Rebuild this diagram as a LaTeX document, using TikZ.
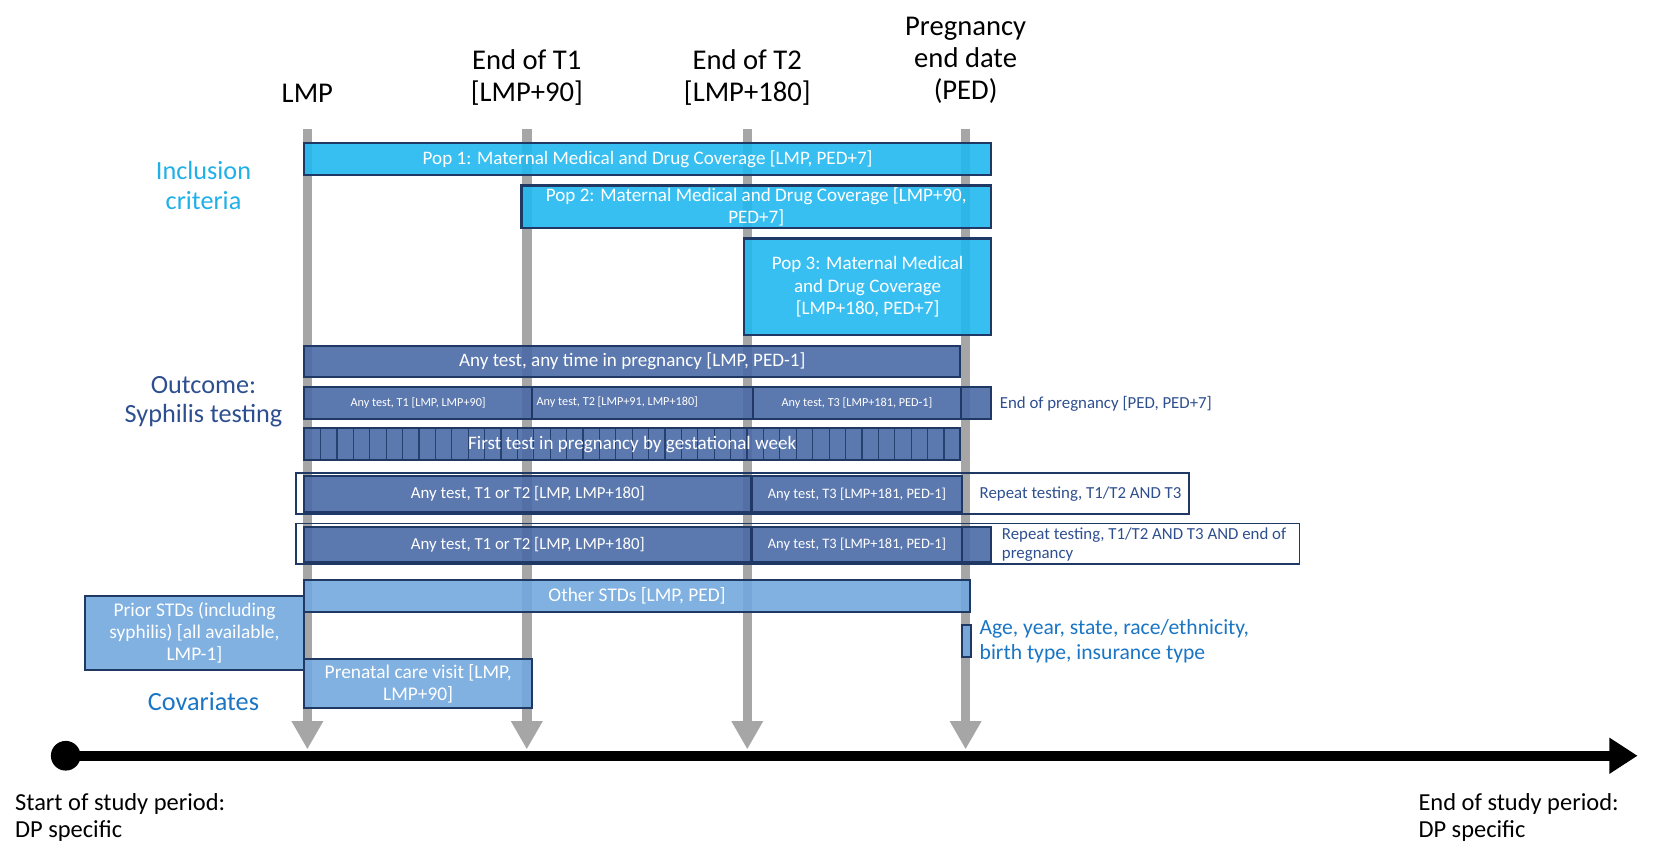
\documentclass[tikz,border=0pt]{standalone}
\usepackage{fontspec}
\setmainfont{Carlito}
\usetikzlibrary{arrows.meta}
\definecolor{navy}{HTML}{1F3864}
\definecolor{inclfill}{HTML}{22B8EF}
\definecolor{outfill}{HTML}{4A6AA6}
\definecolor{covfill}{HTML}{72A8DE}
\definecolor{incltext}{HTML}{1FB0E8}
\definecolor{outtext}{HTML}{2E4F8F}
\definecolor{covtext}{HTML}{1A75C4}
\definecolor{vgray}{HTML}{A6A6A6}
\newcommand\fs[2]{\fontsize{#1}{#2}\selectfont}
% \bx{name}{x1}{y1}{x2}{y2}{box style}{text style}{text}
\newcommand\bx[8]{\draw[#6] (#2,#3) rectangle (#4,#5);
  \node[#7] (#1) at ({(#2+#4)/2},{(#3+#5)/2}) {#8};}
\begin{document}
\begin{tikzpicture}[x=0.025cm,y=-0.025cm,
  inclbox/.style={draw=navy,line width=1.4pt,fill=inclfill,fill opacity=0.9},
  outbox/.style={draw=navy,line width=1.4pt,fill=outfill,fill opacity=0.9},
  covbox/.style={draw=navy,line width=1.4pt,fill=covfill,fill opacity=0.9},
  repframe/.style={draw=navy,line width=1.1pt},
  wtext/.style={text=white,inner sep=0pt,align=center,font=\fs{12.8}{14.8}},
  stext/.style={text=white,inner sep=0pt,align=center,font=\fs{8.2}{9.5}},
  mtext/.style={text=white,inner sep=0pt,align=center,font=\fs{11.3}{13}},
  ttext/.style={text=white,inner sep=0pt,align=center,font=\fs{9.7}{11}},
  hdr/.style={inner sep=0pt,align=center,font=\fs{19.2}{21.5}},
  sidelab/.style={inner sep=0pt,align=left,anchor=west,font=\fs{11.3}{13}},
  leftlab/.style={inner sep=0pt,align=center,font=\fs{17.6}{20}},
  vline/.style={draw=vgray,line width=6.4pt,-{Triangle[width=20pt,length=19pt]}},
  btext/.style={inner sep=0pt,align=left,anchor=north west,font=\fs{16.4}{18.5}},
]
\useasboundingbox (0,0) rectangle (1568,804);

% header labels
\node[hdr] (hLMP) at (290,88) {LMP};
\node[hdr] (hT1) at (497,73) {End of T1\\{[LMP+90]}};
\node[hdr] (hT2) at (705,73) {End of T2\\{[LMP+180]}};
\node[hdr] (hPED) at (911,57) {Pregnancy\\end date\\(PED)};

% vertical gray arrows
\foreach \n/\x in {lmp/290,tone/497,ttwo/705,ped/911}{
  \coordinate (\n Top) at (\x,122);
  \coordinate (\n Bot) at (\x,707);
  \draw[vline] (\n Top) -- (\n Bot);
}

% left labels
\node[leftlab,text=incltext] (lIncl) at (192,175) {Inclusion\\criteria};
\node[leftlab,text=outtext] (lOut) at (192,379) {Outcome:\\Syphilis testing};
\node[leftlab,text=covtext] (lCov) at (192,662) {Covariates};

% inclusion criteria
\bx{pop1}{287}{135}{935}{165}{inclbox}{wtext}{Pop 1: Maternal Medical and Drug Coverage [LMP, PED+7]}
\bx{pop2}{492}{175}{935}{215}{inclbox}{wtext}{Pop 2: Maternal Medical and Drug Coverage [LMP+90,\\PED+7]}
\bx{pop3}{702}{225}{935}{316}{inclbox}{wtext}{Pop 3: Maternal Medical\\and Drug Coverage\\{[LMP+180, PED+7]}}

% outcome
\bx{anytest}{287}{326}{906}{356}{outbox}{wtext}{Any test, any time in pregnancy [LMP, PED-1]}
\bx{tone}{287}{365}{502}{395}{outbox}{stext}{Any test, T1 [LMP, LMP+90]}
\draw[outbox] (502,365) rectangle (710,395);
\node[stext,anchor=west] (ttwo) at (506,379) {Any test, T2 [LMP+91, LMP+180]};
\bx{tthree}{710}{365}{907}{395}{outbox}{stext}{Any test, T3 [LMP+181, PED-1]}
\bx{eop}{907}{365}{935}{395}{outbox}{stext}{}
\node[sidelab,text=outtext] (eopLab) at (943,381) {End of pregnancy [PED, PED+7]};

% gestational week
\draw[outbox] (287,404) rectangle (906,434);
\foreach \i in {1,...,39}{
  \draw[navy,line width=0.8pt,opacity=0.85] ({287+\i*15.475},404) -- ({287+\i*15.475},434);
}
\node[wtext] (week) at (596.5,419) {First test in pregnancy by gestational week};

% repeat testing 1
\draw[repframe] (279,446) rectangle (1122,485);
\bx{rOneA}{287}{449}{709}{483}{outbox}{mtext}{Any test, T1 or T2 [LMP, LMP+180]}
\bx{rOneB}{709}{449}{908}{483}{outbox}{ttext}{Any test, T3 [LMP+181, PED-1]}
\node[sidelab,text=outtext] (rOneLab) at (924,466) {Repeat testing, T1/T2 AND T3};

% repeat testing 2
\draw[repframe] (279,494) rectangle (1226,532);
\bx{rTwoA}{287}{497}{709}{530}{outbox}{mtext}{Any test, T1 or T2 [LMP, LMP+180]}
\bx{rTwoB}{709}{497}{908}{530}{outbox}{ttext}{Any test, T3 [LMP+181, PED-1]}
\bx{rTwoC}{908}{497}{935}{530}{outbox}{ttext}{}
\node[sidelab,text=outtext] (rTwoLab) at (945,514) {Repeat testing, T1/T2 AND T3 AND end of\\pregnancy};

% covariates
\bx{other}{287}{547}{915}{577}{covbox}{wtext,font=\fs{13}{15}}{Other STDs [LMP, PED]}
\bx{prior}{80}{562}{287}{632}{covbox}{wtext,font=\fs{13}{15}}{Prior STDs (including\\syphilis) [all available,\\LMP-1]}
\bx{prenatal}{287}{622}{502}{668}{covbox}{wtext,font=\fs{13}{15}}{Prenatal care visit [LMP,\\LMP+90]}
\bx{agebox}{908}{590}{916}{620}{covbox}{wtext}{}
\node[sidelab,text=covtext,font=\fs{14.5}{17}] (ageLab) at (924,605) {Age, year, state, race/ethnicity,\\birth type, insurance type};

% timeline
\coordinate (tStart) at (62,713);
\coordinate (tEnd) at (1545,713);
\fill[black] (tStart) circle (14);
\draw[black,line width=7pt,-{Triangle[width=23pt,length=19pt]}] (tStart) -- (tEnd);

\node[btext] (startLab) at (14,748) {Start of study period:\\DP specific};
\node[btext] (endLab) at (1338,748) {End of study period:\\DP specific};
\end{tikzpicture}
\end{document}
